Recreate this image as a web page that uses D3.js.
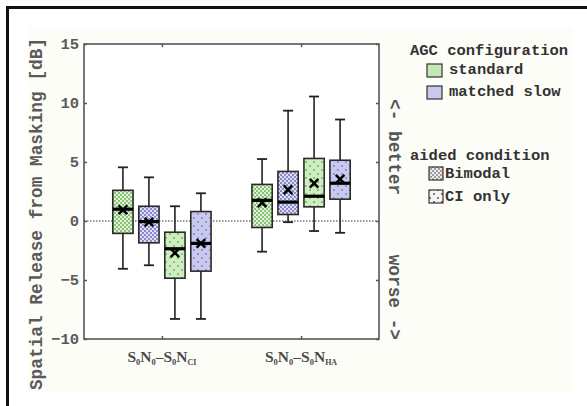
<!DOCTYPE html>
<html><head><meta charset="utf-8">
<script src="https://cdn.jsdelivr.net/npm/d3@7"></script>
<style>html,body{margin:0;padding:0;background:#fff;}svg{display:block;}</style>
</head><body>
<svg id="chart" width="587" height="406"></svg>
<script>
// ---- data ----
const categories = ["S0N0-S0NCI", "S0N0-S0NHA"];
const catLabels = [["S","0","N","0","\u2013S","0","N","CI"], ["S","0","N","0","\u2013S","0","N","HA"]];
const seriesKeys = ["standard|Bimodal", "slow|Bimodal", "standard|CI only", "slow|CI only"];
const configs = ["standard", "matched slow"];
const conditions = ["Bimodal", "CI only"];
const yTicks = [-10, -5, 0, 5, 10, 15];
// per category, per series (order of seriesKeys)
const whiskerLow  = [[-4.05, -3.75, -8.3, -8.3], [-2.6, -0.1, -0.85, -1.0]];
const q1          = [[-1.05, -1.85, -4.85, -4.25], [-0.55, 0.55, 1.2, 1.85]];
const medians     = [[1.0, -0.05, -2.35, -1.9], [1.75, 1.6, 2.1, 3.2]];
const q3          = [[2.6, 1.25, -0.95, 0.8], [3.1, 4.2, 5.3, 5.15]];
const whiskerHigh = [[4.55, 3.7, 1.25, 2.35], [5.25, 9.35, 10.55, 8.6]];
const means       = [[0.95, -0.1, -2.7, -1.9], [1.55, 2.65, 3.2, 3.55]];

// ---- drawing ----
const svg = d3.select("#chart");
const L = 84, R = 379, T = 44, B = 339;
const mono = "'Liberation Mono', 'Courier New', monospace";
const serif = "'Liberation Serif', 'Times New Roman', serif";

const defs = svg.append("defs");
function densePattern(id, bg, dot) {
  const p = defs.append("pattern").attr("id", id).attr("patternUnits", "userSpaceOnUse")
    .attr("width", 4).attr("height", 4);
  p.append("rect").attr("width", 4).attr("height", 4).attr("fill", bg);
  p.append("circle").attr("cx", 1).attr("cy", 1).attr("r", 1.15).attr("fill", dot);
  p.append("circle").attr("cx", 3).attr("cy", 3).attr("r", 1.15).attr("fill", dot);
}
function sparsePattern(id, bg, dot) {
  const p = defs.append("pattern").attr("id", id).attr("patternUnits", "userSpaceOnUse")
    .attr("width", 8).attr("height", 8);
  p.append("rect").attr("width", 8).attr("height", 8).attr("fill", bg);
  p.append("circle").attr("cx", 2).attr("cy", 2).attr("r", 0.9).attr("fill", dot);
  p.append("circle").attr("cx", 6).attr("cy", 6).attr("r", 0.9).attr("fill", dot);
}
densePattern("p-std-bi", "#86c074", "#e4f4dc");
densePattern("p-slow-bi", "#8686c8", "#e2e2f6");
sparsePattern("p-std-ci", "#cdeebe", "#6fa862");
sparsePattern("p-slow-ci", "#c9c9ef", "#7a7ac0");
densePattern("p-leg-bi", "#9a9a9a", "#f2f2f2");
sparsePattern("p-leg-ci", "#f4f4f4", "#444");
const fills = ["url(#p-std-bi)", "url(#p-slow-bi)", "url(#p-std-ci)", "url(#p-slow-ci)"];

// outer frame & faint background
svg.append("rect").attr("x", 28).attr("y", 28).attr("width", 545).attr("height", 364).attr("fill", "#fdfdf8");
svg.append("line").attr("x1", 7).attr("x2", 587).attr("y1", 7.5).attr("y2", 7.5).attr("stroke", "#111").attr("stroke-width", 3);
svg.append("line").attr("x1", 7.5).attr("x2", 7.5).attr("y1", 6).attr("y2", 406).attr("stroke", "#111").attr("stroke-width", 3);
svg.append("rect").attr("x", L).attr("y", T).attr("width", R - L).attr("height", B - T).attr("fill", "#fff");

const x = d3.scalePoint().domain(categories).range([L, R]).padding(0.56);
const xs = d3.scaleBand().domain(seriesKeys).range([-52, 52]).paddingInner(0.22).paddingOuter(0.11);
const y = d3.scaleLinear().domain([-10, 15]).range([B, T]);

// zero line
svg.append("line").attr("x1", L).attr("x2", R).attr("y1", y(0)).attr("y2", y(0))
  .attr("stroke", "#777").attr("stroke-width", 1.3).attr("stroke-dasharray", "1.5,1.5");

// axes
const axisColor = "#555";
const gl = svg.append("g").attr("transform", `translate(${L},0)`)
  .call(d3.axisLeft(y).tickValues(yTicks).tickSize(-3).tickPadding(5));
const gr = svg.append("g").attr("transform", `translate(${R},0)`)
  .call(d3.axisRight(y).tickValues(yTicks).tickSize(-3).tickFormat(""));
const gt = svg.append("g").attr("transform", `translate(0,${T})`)
  .call(d3.axisTop(x).tickSize(-3).tickFormat(""));
const gb = svg.append("g").attr("transform", `translate(0,${B})`)
  .call(d3.axisBottom(x).tickSize(-3).tickFormat(""));
[gl, gr, gt, gb].forEach(g => {
  g.select(".domain").remove();
  g.selectAll(".tick line").attr("stroke", axisColor).attr("stroke-width", 1.5);
});
gl.selectAll(".tick text").attr("font-family", mono).attr("font-weight", "bold")
  .attr("font-size", 15.5).attr("fill", "#5a5a5a");
svg.append("rect").attr("x", L).attr("y", T).attr("width", R - L).attr("height", B - T)
  .attr("fill", "none").attr("stroke", axisColor).attr("stroke-width", 1.6);

// category labels with subscripts
categories.forEach((c, i) => {
  const t = svg.append("text").attr("x", x(c)).attr("y", 362).attr("text-anchor", "middle")
    .attr("font-family", serif).attr("font-weight", "bold").attr("font-size", 15.5).attr("fill", "#4a4a4a");
  catLabels[i].forEach((s, j) => {
    const sub = j % 2 === 1;
    t.append("tspan").text(s)
      .attr("font-size", sub ? (s.length > 1 ? 8 : 8.5) : 15.5)
      .attr("dy", sub ? 3 : (j === 0 ? 0 : -3));
  });
});

// boxes
categories.forEach((c, ci) => {
  seriesKeys.forEach((k, si) => {
    const cx = x(c) + xs(k) + xs.bandwidth() / 2;
    const w = xs.bandwidth();
    const g = svg.append("g");
    const cap = 5;
    g.append("line").attr("x1", cx).attr("x2", cx).attr("y1", y(whiskerHigh[ci][si])).attr("y2", y(q3[ci][si]))
      .attr("stroke", "#222").attr("stroke-width", 1.6);
    g.append("line").attr("x1", cx).attr("x2", cx).attr("y1", y(q1[ci][si])).attr("y2", y(whiskerLow[ci][si]))
      .attr("stroke", "#222").attr("stroke-width", 1.6);
    [whiskerHigh[ci][si], whiskerLow[ci][si]].forEach(v => {
      g.append("line").attr("x1", cx - cap).attr("x2", cx + cap).attr("y1", y(v)).attr("y2", y(v))
        .attr("stroke", "#222").attr("stroke-width", 1.8);
    });
    g.append("rect").attr("x", cx - w / 2).attr("y", y(q3[ci][si])).attr("width", w)
      .attr("height", y(q1[ci][si]) - y(q3[ci][si])).attr("fill", fills[si])
      .attr("stroke", "#2a2a2a").attr("stroke-width", 1.6);
    g.append("line").attr("x1", cx - w / 2).attr("x2", cx + w / 2).attr("y1", y(medians[ci][si])).attr("y2", y(medians[ci][si]))
      .attr("stroke", "#000").attr("stroke-width", 3.2);
    const m = y(means[ci][si]), s = 4.3;
    g.append("path").attr("d", `M${cx - s},${m - s}L${cx + s},${m + s}M${cx - s},${m + s}L${cx + s},${m - s}`)
      .attr("stroke", "#000").attr("stroke-width", 2.5);
  });
});

// y label
svg.append("text").attr("transform", "translate(37,214) rotate(-90)")
  .attr("text-anchor", "middle").attr("dominant-baseline", "middle")
  .attr("font-family", mono).attr("font-weight", "bold").attr("font-size", 17.8).attr("fill", "#5a5a5a")
  .text("Spatial Release from Masking [dB]");

// side annotations
svg.append("text").attr("transform", "translate(394,99) rotate(90)")
  .attr("text-anchor", "start").attr("dominant-baseline", "middle")
  .attr("font-family", mono).attr("font-weight", "bold").attr("font-size", 17.8).attr("fill", "#555")
  .text("<- better");
svg.append("text").attr("transform", "translate(394,340) rotate(90)")
  .attr("text-anchor", "end").attr("dominant-baseline", "middle")
  .attr("font-family", mono).attr("font-weight", "bold").attr("font-size", 17.8).attr("fill", "#555")
  .text("worse ->");

// legend
function legText(txt, tx, ty) {
  svg.append("text").attr("x", tx).attr("y", ty).attr("font-family", mono).attr("font-weight", "bold")
    .attr("font-size", 15.5).attr("fill", "#333").text(txt);
}
legText("AGC configuration", 410, 55);
const cfgFill = ["#c6e8b6", "#c8c8ec"];
configs.forEach((c, i) => {
  const yy = [64, 86][i];
  svg.append("rect").attr("x", 427).attr("y", yy).attr("width", 15).attr("height", 13)
    .attr("fill", cfgFill[i]).attr("stroke", "#333").attr("stroke-width", 1.2);
  legText(c, 449, yy + 10);
});
legText("aided condition", 410, 160);
const condFill = ["url(#p-leg-bi)", "url(#p-leg-ci)"];
conditions.forEach((c, i) => {
  const yy = [167, 190][i];
  svg.append("rect").attr("x", 429).attr("y", yy).attr("width", 14).attr("height", 13)
    .attr("fill", condFill[i]).attr("stroke", "#333").attr("stroke-width", 1.2);
  legText(c, 445, yy + 11);
});
</script>
</body></html>
